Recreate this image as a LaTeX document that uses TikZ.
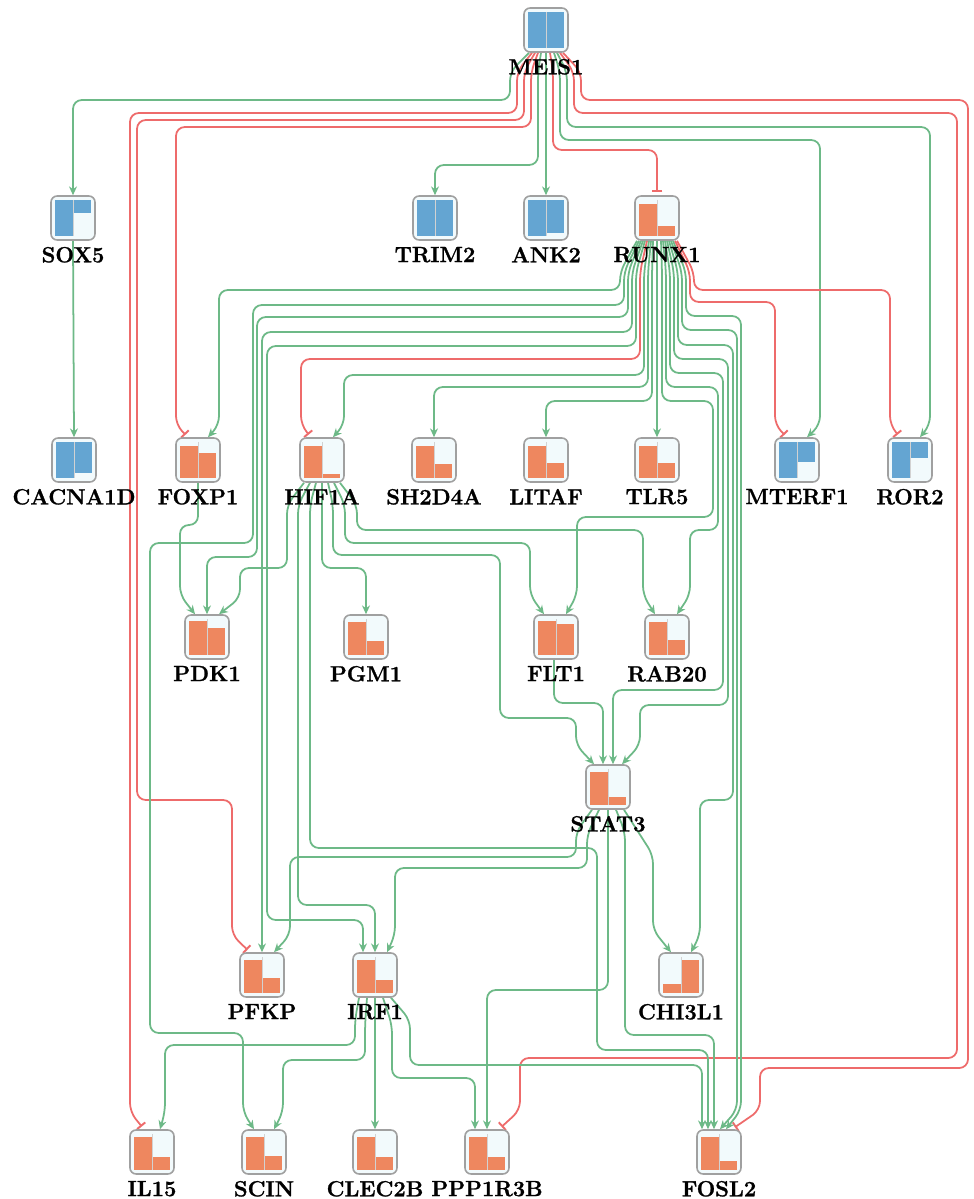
\documentclass[tikz,border=0pt]{standalone}
\usepackage{fontspec}
\setmainfont{Latin Modern Roman}[BoldFeatures={FakeBold=1.2}]
\usetikzlibrary{arrows.meta,calc}
\definecolor{gA}{HTML}{6DB987}
\definecolor{rA}{HTML}{EE6B6B}
\definecolor{blc}{HTML}{64A5D2}
\definecolor{orc}{HTML}{EE875F}
\definecolor{boxbg}{HTML}{F2FAFC}
\definecolor{bd}{HTML}{A0A0A0}
\pgfdeclarelayer{edges}
\pgfsetlayers{edges,main}
\tikzset{
  gbox/.style={draw=bd, fill=boxbg, rounded corners=3.5pt, minimum width=0.88cm, minimum height=0.88cm, inner sep=0pt, line width=0.9pt, label distance=1pt},
  glabel/.style={font=\fontsize{12.5}{14}\selectfont\bfseries},
  divl/.style={draw=white!65!gray, line width=0.4pt},
  act/.style={draw=gA, line width=1pt, rounded corners=5pt, -{Stealth[length=5pt,width=4.5pt]}},
  inh/.style={draw=rA, line width=1pt, rounded corners=5pt, -{Bar[width=6pt,line width=1.1pt]}, shorten >=2pt},
}
\newcommand{\gup}[6]{%
  \node[gbox,label={[glabel]below:#4}] (#1) at (#2,#3) {};
  \fill[orc] (#2-18,#3+18) rectangle (#2,#3+18-#5);
  \fill[orc] (#2,#3+18) rectangle (#2+18,#3+18-#6);
  \draw[divl] (#2,#3-18) -- (#2,#3+18);
}
\newcommand{\gdn}[6]{%
  \node[gbox,label={[glabel]below:#4}] (#1) at (#2,#3) {};
  \fill[blc] (#2-18,#3-18) rectangle (#2,#3-18+#5);
  \fill[blc] (#2,#3-18) rectangle (#2+18,#3-18+#6);
  \draw[divl] (#2,#3-18) -- (#2,#3+18);
}
\begin{document}
\begin{tikzpicture}[x=0.02cm,y=-0.02cm]
\begin{pgfonlayer}{edges}
\fill[white] (0,0) rectangle (973,1199);
\end{pgfonlayer}
\useasboundingbox (0,0) rectangle (973,1199);

% nodes
\gdn{MEIS1}{546}{30}{MEIS1}{36}{36}
\gdn{SOX5}{73}{218}{SOX5}{36}{13}
\gdn{TRIM2}{435}{218}{TRIM2}{36}{36}
\gdn{ANK2}{546}{218}{ANK2}{36}{33}
\gup{RUNX1}{657}{218}{RUNX1}{32}{10}
\gdn{CACNA1D}{74}{460}{CACNA1D}{36}{31}
\gup{FOXP1}{198}{460}{FOXP1}{32}{25}
\gup{HIF1A}{322}{460}{HIF1A}{32}{4}
\gup{SH2D4A}{434}{460}{SH2D4A}{32}{14}
\gup{LITAF}{546}{460}{LITAF}{32}{15}
\gup{TLR5}{657}{460}{TLR5}{32}{15}
\gdn{MTERF1}{797}{460}{MTERF1}{36}{20}
\gdn{ROR2}{910}{460}{ROR2}{36}{16}
\gup{PDK1}{207}{637}{PDK1}{34}{27}
\gup{PGM1}{366}{637}{PGM1}{33}{14}
\gup{FLT1}{556}{637}{FLT1}{34}{31}
\gup{RAB20}{667}{637}{RAB20}{33}{15}
\gup{STAT3}{608}{787}{STAT3}{33}{8}
\gup{PFKP}{262}{975}{PFKP}{33}{15}
\gup{IRF1}{375}{975}{IRF1}{33}{13}
\gup{CHI3L1}{681}{975}{CHI3L1}{9}{33}
\gup{IL15}{152}{1152}{IL15}{33}{13}
\gup{SCIN}{264}{1152}{SCIN}{33}{14}
\gup{CLEC2B}{375}{1152}{CLEC2B}{33}{13}
\gup{PPP1R3B}{487}{1152}{PPP1R3B}{33}{13}
\gup{FOSL2}{719}{1152}{FOSL2}{33}{9}

\begin{pgfonlayer}{edges}
% MEIS1
\draw[act] ($(MEIS1.south)+(-17,0)$) -- (510,72) |- (73,100) -- (SOX5.north);
\draw[inh] ($(MEIS1.south)+(-14,0)$) -- (517,72) |- (130,113) -- (130,1112) -- ($(IL15.north)+(-8,0)$);
\draw[inh] ($(MEIS1.south)+(-11,0)$) -- (524,72) |- (137,120) |- (232,800) -- (232,935) -- ($(PFKP.north)+(-12,0)$);
\draw[inh] ($(MEIS1.south)+(-8,0)$) -- (531,72) |- (176,127) -- (176,425) -- ($(FOXP1.north)+(-10,0)$);
\draw[act] ($(MEIS1.south)+(-5,0)$) -- (538,72) |- (435,165) -- (TRIM2.north);
\draw[act] (MEIS1.south) -- (ANK2.north);
\draw[inh] ($(MEIS1.south)+(4,0)$) -- (553,72) |- (657,150) -- (RUNX1.north);
\draw[act] ($(MEIS1.south)+(8,0)$) -- (560,72) |- (820,140) -- (820,425) -- ($(MTERF1.north)+(10,0)$);
\draw[act] ($(MEIS1.south)+(11,0)$) -- (567,72) |- (930,127) -- (930,425) -- ($(ROR2.north)+(10,0)$);
\draw[inh] ($(MEIS1.south)+(14,0)$) -- (574,72) |- (957,113) |- (520,1058) -- (520,1110) -- ($(PPP1R3B.north)+(12,0)$);
\draw[inh] ($(MEIS1.south)+(17,0)$) -- (581,72) |- (968,100) |- (760,1068) -- (760,1110) -- ($(FOSL2.north)+(13,0)$);
% SOX5
\draw[act] (SOX5.south) -- (CACNA1D.north);
% RUNX1 left
\draw[act] ($(RUNX1.south)+(-20,0)$) -- (620,272) |- (219,290) -- (219,425) -- ($(FOXP1.north)+(10,0)$);
\draw[act] ($(RUNX1.south)+(-18,0)$) -- (624,272) |- (253,305) |- (150,543) |- (243,1033) -- (243,1112) -- ($(SCIN.north)+(-10,0)$);
\draw[act] ($(RUNX1.south)+(-16,0)$) -- (628,272) |- (257,317) |- (207,557) -- (PDK1.north);
\draw[act] ($(RUNX1.south)+(-14,0)$) -- (632,272) |- (262,332) -- (PFKP.north);
\draw[act] ($(RUNX1.south)+(-12,0)$) -- (636,272) |- (267,346) |- (363,920) -- ($(IRF1.north)+(-12,0)$);
\draw[inh] ($(RUNX1.south)+(-10,0)$) -- (640,272) |- (301,359) -- (301,425) -- ($(HIF1A.north)+(-11,0)$);
\draw[act] ($(RUNX1.south)+(-8,0)$) -- (644,272) |- (344,375) -- (344,425) -- ($(HIF1A.north)+(11,0)$);
\draw[act] ($(RUNX1.south)+(-6,0)$) -- (648,272) |- (434,387) -- (SH2D4A.north);
\draw[act] ($(RUNX1.south)+(-4,0)$) -- (652,272) |- (546,401) -- (LITAF.north);
\draw[act] (RUNX1.south) -- (TLR5.north);
% RUNX1 right
\draw[act] ($(RUNX1.south)+(4,0)$) -- (662,272) |- (713,401) |- (577,517) -- (577,595) -- ($(FLT1.north)+(10,0)$);
\draw[act] ($(RUNX1.south)+(6,0)$) -- (666,272) |- (718,387) |- (690,530) -- (690,595) -- ($(RAB20.north)+(10,0)$);
\draw[act] ($(RUNX1.south)+(8,0)$) -- (670,272) |- (723,373) |- (613,690) -- ($(STAT3.north)+(5,0)$);
\draw[act] ($(RUNX1.south)+(10,0)$) -- (674,272) |- (728,359) |- (640,705) -- (640,745) -- ($(STAT3.north)+(14,0)$);
\draw[act] ($(RUNX1.south)+(12,0)$) -- (678,272) |- (733,345) |- (700,800) -- (700,935) -- ($(CHI3L1.north)+(10,0)$);
\draw[act] ($(RUNX1.south)+(14,0)$) -- (682,272) |- (737,330) -- (737,1110) -- ($(FOSL2.north)+(1,0)$);
\draw[act] ($(RUNX1.south)+(16,0)$) -- (686,272) |- (741,316) -- (741,1110) -- ($(FOSL2.north)+(7,0)$);
\draw[inh] ($(RUNX1.south)+(18,0)$) -- (690,272) |- (775,302) -- (775,425) -- ($(MTERF1.north)+(-10,0)$);
\draw[inh] ($(RUNX1.south)+(20,0)$) -- (694,272) |- (890,290) -- (890,425) -- ($(ROR2.north)+(-10,0)$);
% FOXP1
\draw[act] (FOXP1.south) |- (180,525) -- (180,595) -- ($(PDK1.north)+(-12,0)$);
% HIF1A
\draw[act] ($(HIF1A.south)+(-18,0)$) -- (287,505) |- (240,568) -- (240,598) -- ($(PDK1.north)+(12,0)$);
\draw[act] ($(HIF1A.south)+(-12,0)$) -- (298,505) |- (375,905) -- (IRF1.north);
\draw[act] ($(HIF1A.south)+(-6,0)$) -- (310,505) |- (597,848) |- (708,1050) -- ($(FOSL2.north)+(-11,0)$);
\draw[act] (HIF1A.south) |- (366,568) -- (PGM1.north);
\draw[act] ($(HIF1A.south)+(6,0)$) -- (333,505) |- (500,555) |- (576,718) -- (576,745) -- ($(STAT3.north)+(-14,0)$);
\draw[act] ($(HIF1A.south)+(12,0)$) -- (345,505) |- (530,543) -- (530,595) -- ($(FLT1.north)+(-12,0)$);
\draw[act] ($(HIF1A.south)+(18,0)$) -- (357,505) |- (643,530) -- (643,595) -- ($(RAB20.north)+(-12,0)$);
% FLT1
\draw[act] ($(FLT1.south)+(-2,0)$) |- (603,703) -- ($(STAT3.north)+(-5,0)$);
% STAT3
\draw[act] ($(STAT3.south)+(-16,0)$) -- (576,832) |- (290,857) -- (290,935) -- ($(PFKP.north)+(12,0)$);
\draw[act] ($(STAT3.south)+(-9,0)$) -- (587,835) |- (395,868) -- (395,935) -- ($(IRF1.north)+(12,0)$);
\draw[act] (STAT3.south) |- (487,990) -- (PPP1R3B.north);
\draw[act] ($(STAT3.south)+(8,0)$) -- (625,832) |- (714,1035) -- ($(FOSL2.north)+(-5,0)$);
\draw[act] ($(STAT3.south)+(16,0)$) -- (653,855) -- (653,930) -- ($(CHI3L1.north)+(-10,0)$);
% IRF1
\draw[act] ($(IRF1.south)+(-16,0)$) -- (355,1020) |- (165,1045) -- (165,1112) -- ($(IL15.north)+(8,0)$);
\draw[act] ($(IRF1.south)+(-8,0)$) -- (365,1025) |- (283,1060) -- (283,1112) -- ($(SCIN.north)+(10,0)$);
\draw[act] (IRF1.south) -- (CLEC2B.north);
\draw[act] ($(IRF1.south)+(8,0)$) -- (392,1025) |- (475,1078) -- (475,1112) -- ($(PPP1R3B.north)+(-12,0)$);
\draw[act] ($(IRF1.south)+(16,0)$) -- (410,1020) |- (702,1065) -- ($(FOSL2.north)+(-17,0)$);
\end{pgfonlayer}
\end{tikzpicture}
\end{document}
